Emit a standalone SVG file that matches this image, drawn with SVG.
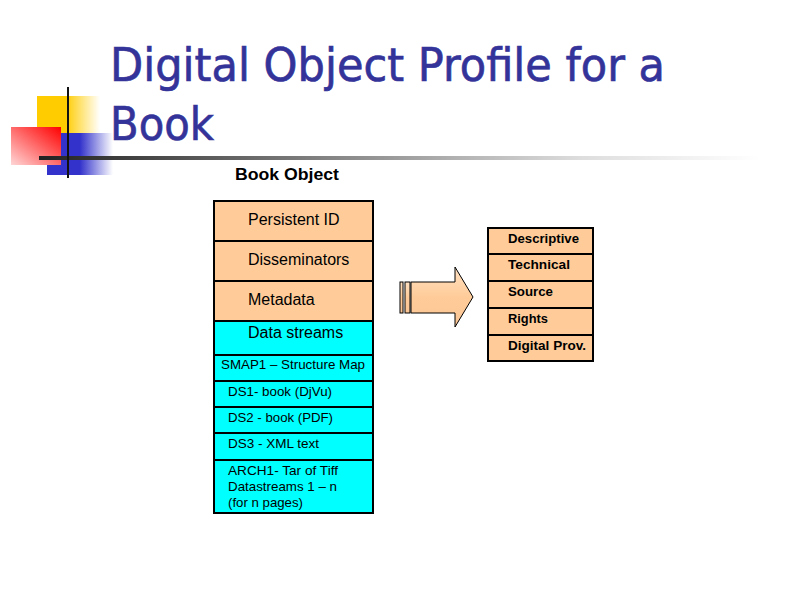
<svg xmlns="http://www.w3.org/2000/svg" width="800" height="600" viewBox="0 0 800 600">
  <style>
    .title { font-family: "DejaVu Sans", Tahoma, sans-serif; font-size: 47px; fill: #333399; stroke: #333399; stroke-width: 0.7px; }
    .cell { stroke: #000; stroke-width: 2; }
    .peach { fill: #FFCC99; }
    .cyan { fill: #00FFFF; }
    .big { font-family: "Liberation Sans", Arial, sans-serif; font-size: 16px; fill: #000; }
    .small { font-family: "Liberation Sans", Arial, sans-serif; font-size: 13px; fill: #000; }
    .tag { font-family: "Liberation Sans", Arial, sans-serif; font-size: 13px; font-weight: bold; fill: #000; }
  </style>
  <defs>
    <linearGradient id="yellowFade" x1="0" y1="0" x2="1" y2="0">
      <stop offset="0" stop-color="#FFCC00"/>
      <stop offset="0.45" stop-color="#FFCC00"/>
      <stop offset="1" stop-color="#FFFFFF"/>
    </linearGradient>
    <linearGradient id="redFade" x1="1" y1="0" x2="0" y2="1">
      <stop offset="0" stop-color="#FF0000"/>
      <stop offset="1" stop-color="#FFD6D6"/>
    </linearGradient>
    <linearGradient id="blueFade" x1="0" y1="0" x2="1" y2="0">
      <stop offset="0" stop-color="#3333CC"/>
      <stop offset="0.5" stop-color="#3333CC"/>
      <stop offset="1" stop-color="#FFFFFF"/>
    </linearGradient>
    <linearGradient id="ruleFade" x1="0" y1="0" x2="1" y2="0">
      <stop offset="0" stop-color="#222222"/>
      <stop offset="0.35" stop-color="#777777"/>
      <stop offset="0.75" stop-color="#DDDDDD"/>
      <stop offset="1" stop-color="#FFFFFF"/>
    </linearGradient>
    <linearGradient id="arrowFill" x1="0" y1="0" x2="0" y2="1">
      <stop offset="0" stop-color="#FFE0C2"/>
      <stop offset="0.5" stop-color="#FFCC99"/>
      <stop offset="1" stop-color="#FBC595"/>
    </linearGradient>
  </defs>

  <rect width="800" height="600" fill="#FFFFFF"/>

  <!-- corner ornament -->
  <g id="ornament">
    <rect x="37" y="96" width="63" height="40" fill="url(#yellowFade)"/>
    <rect x="47" y="133" width="66" height="42" fill="url(#blueFade)"/>
    <rect x="11" y="127" width="50" height="38" fill="url(#redFade)"/>
    <rect x="39" y="156" width="721" height="4" fill="url(#ruleFade)"/>
    <rect x="67" y="87" width="2" height="91" fill="#111111"/>
  </g>

  <!-- heading -->
  <g id="heading">
    <text class="title" x="110" y="81" textLength="555" lengthAdjust="spacingAndGlyphs">Digital Object Profile for a</text>
    <text class="title" x="110" y="140" textLength="104" lengthAdjust="spacingAndGlyphs">Book</text>
  </g>

  <!-- book object stack -->
  <g id="book-object">
    <text x="235" y="180" font-family="Liberation Sans, Arial, sans-serif" font-size="16" font-weight="bold" textLength="104" lengthAdjust="spacingAndGlyphs">Book Object</text>
    <g id="persistent-id">
      <rect class="cell peach" x="214" y="201" width="159" height="40"/>
      <text class="big" x="248" y="225">Persistent ID</text>
    </g>
    <g id="disseminators">
      <rect class="cell peach" x="214" y="241" width="159" height="40"/>
      <text class="big" x="248" y="265">Disseminators</text>
    </g>
    <g id="metadata">
      <rect class="cell peach" x="214" y="281" width="159" height="40"/>
      <text class="big" x="248" y="305">Metadata</text>
    </g>
    <g id="data-streams">
      <rect class="cell cyan" x="214" y="321" width="159" height="34"/>
      <text class="big" x="248" y="338">Data streams</text>
    </g>
    <g id="smap1">
      <rect class="cell cyan" x="214" y="355" width="159" height="26"/>
      <text class="small" x="221" y="369" textLength="144" lengthAdjust="spacingAndGlyphs">SMAP1 – Structure Map</text>
    </g>
    <g id="ds1">
      <rect class="cell cyan" x="214" y="381" width="159" height="26"/>
      <text class="small" x="228" y="396" textLength="104" lengthAdjust="spacingAndGlyphs">DS1- book (DjVu)</text>
    </g>
    <g id="ds2">
      <rect class="cell cyan" x="214" y="407" width="159" height="26"/>
      <text class="small" x="228" y="422" textLength="105" lengthAdjust="spacingAndGlyphs">DS2 - book (PDF)</text>
    </g>
    <g id="ds3">
      <rect class="cell cyan" x="214" y="433" width="159" height="27"/>
      <text class="small" x="228" y="448" textLength="91" lengthAdjust="spacingAndGlyphs">DS3 - XML text</text>
    </g>
    <g id="arch1">
      <rect class="cell cyan" x="214" y="460" width="159" height="53"/>
      <text class="small" x="228" y="475" textLength="110" lengthAdjust="spacingAndGlyphs">ARCH1- Tar of Tiff</text>
      <text class="small" x="228" y="491" textLength="109" lengthAdjust="spacingAndGlyphs">Datastreams 1 – n</text>
      <text class="small" x="228" y="507" textLength="75" lengthAdjust="spacingAndGlyphs">(for n pages)</text>
    </g>
  </g>

  <!-- connector -->
  <g id="connectors">
    <rect x="400" y="282" width="3" height="31" fill="url(#arrowFill)" stroke="#000" stroke-width="1"/>
    <rect x="405" y="282" width="5" height="31" fill="url(#arrowFill)" stroke="#000" stroke-width="1"/>
    <path d="M411,282 H455 V267 L473,297 L455,327 V313 H411 Z" fill="url(#arrowFill)" stroke="#000" stroke-width="1"/>
  </g>

  <!-- metadata categories -->
  <g id="metadata-types">
    <g id="descriptive">
      <rect class="cell peach" x="488" y="228" width="105" height="26"/>
      <text class="tag" x="508" y="243" textLength="71" lengthAdjust="spacingAndGlyphs">Descriptive</text>
    </g>
    <g id="technical">
      <rect class="cell peach" x="488" y="254" width="105" height="27"/>
      <text class="tag" x="508" y="269" textLength="62" lengthAdjust="spacingAndGlyphs">Technical</text>
    </g>
    <g id="source">
      <rect class="cell peach" x="488" y="281" width="105" height="27"/>
      <text class="tag" x="508" y="296" textLength="45" lengthAdjust="spacingAndGlyphs">Source</text>
    </g>
    <g id="rights">
      <rect class="cell peach" x="488" y="308" width="105" height="27"/>
      <text class="tag" x="508" y="323" textLength="40" lengthAdjust="spacingAndGlyphs">Rights</text>
    </g>
    <g id="digital-prov">
      <rect class="cell peach" x="488" y="335" width="105" height="26"/>
      <text class="tag" x="508" y="350" textLength="78" lengthAdjust="spacingAndGlyphs">Digital Prov.</text>
    </g>
  </g>
</svg>
